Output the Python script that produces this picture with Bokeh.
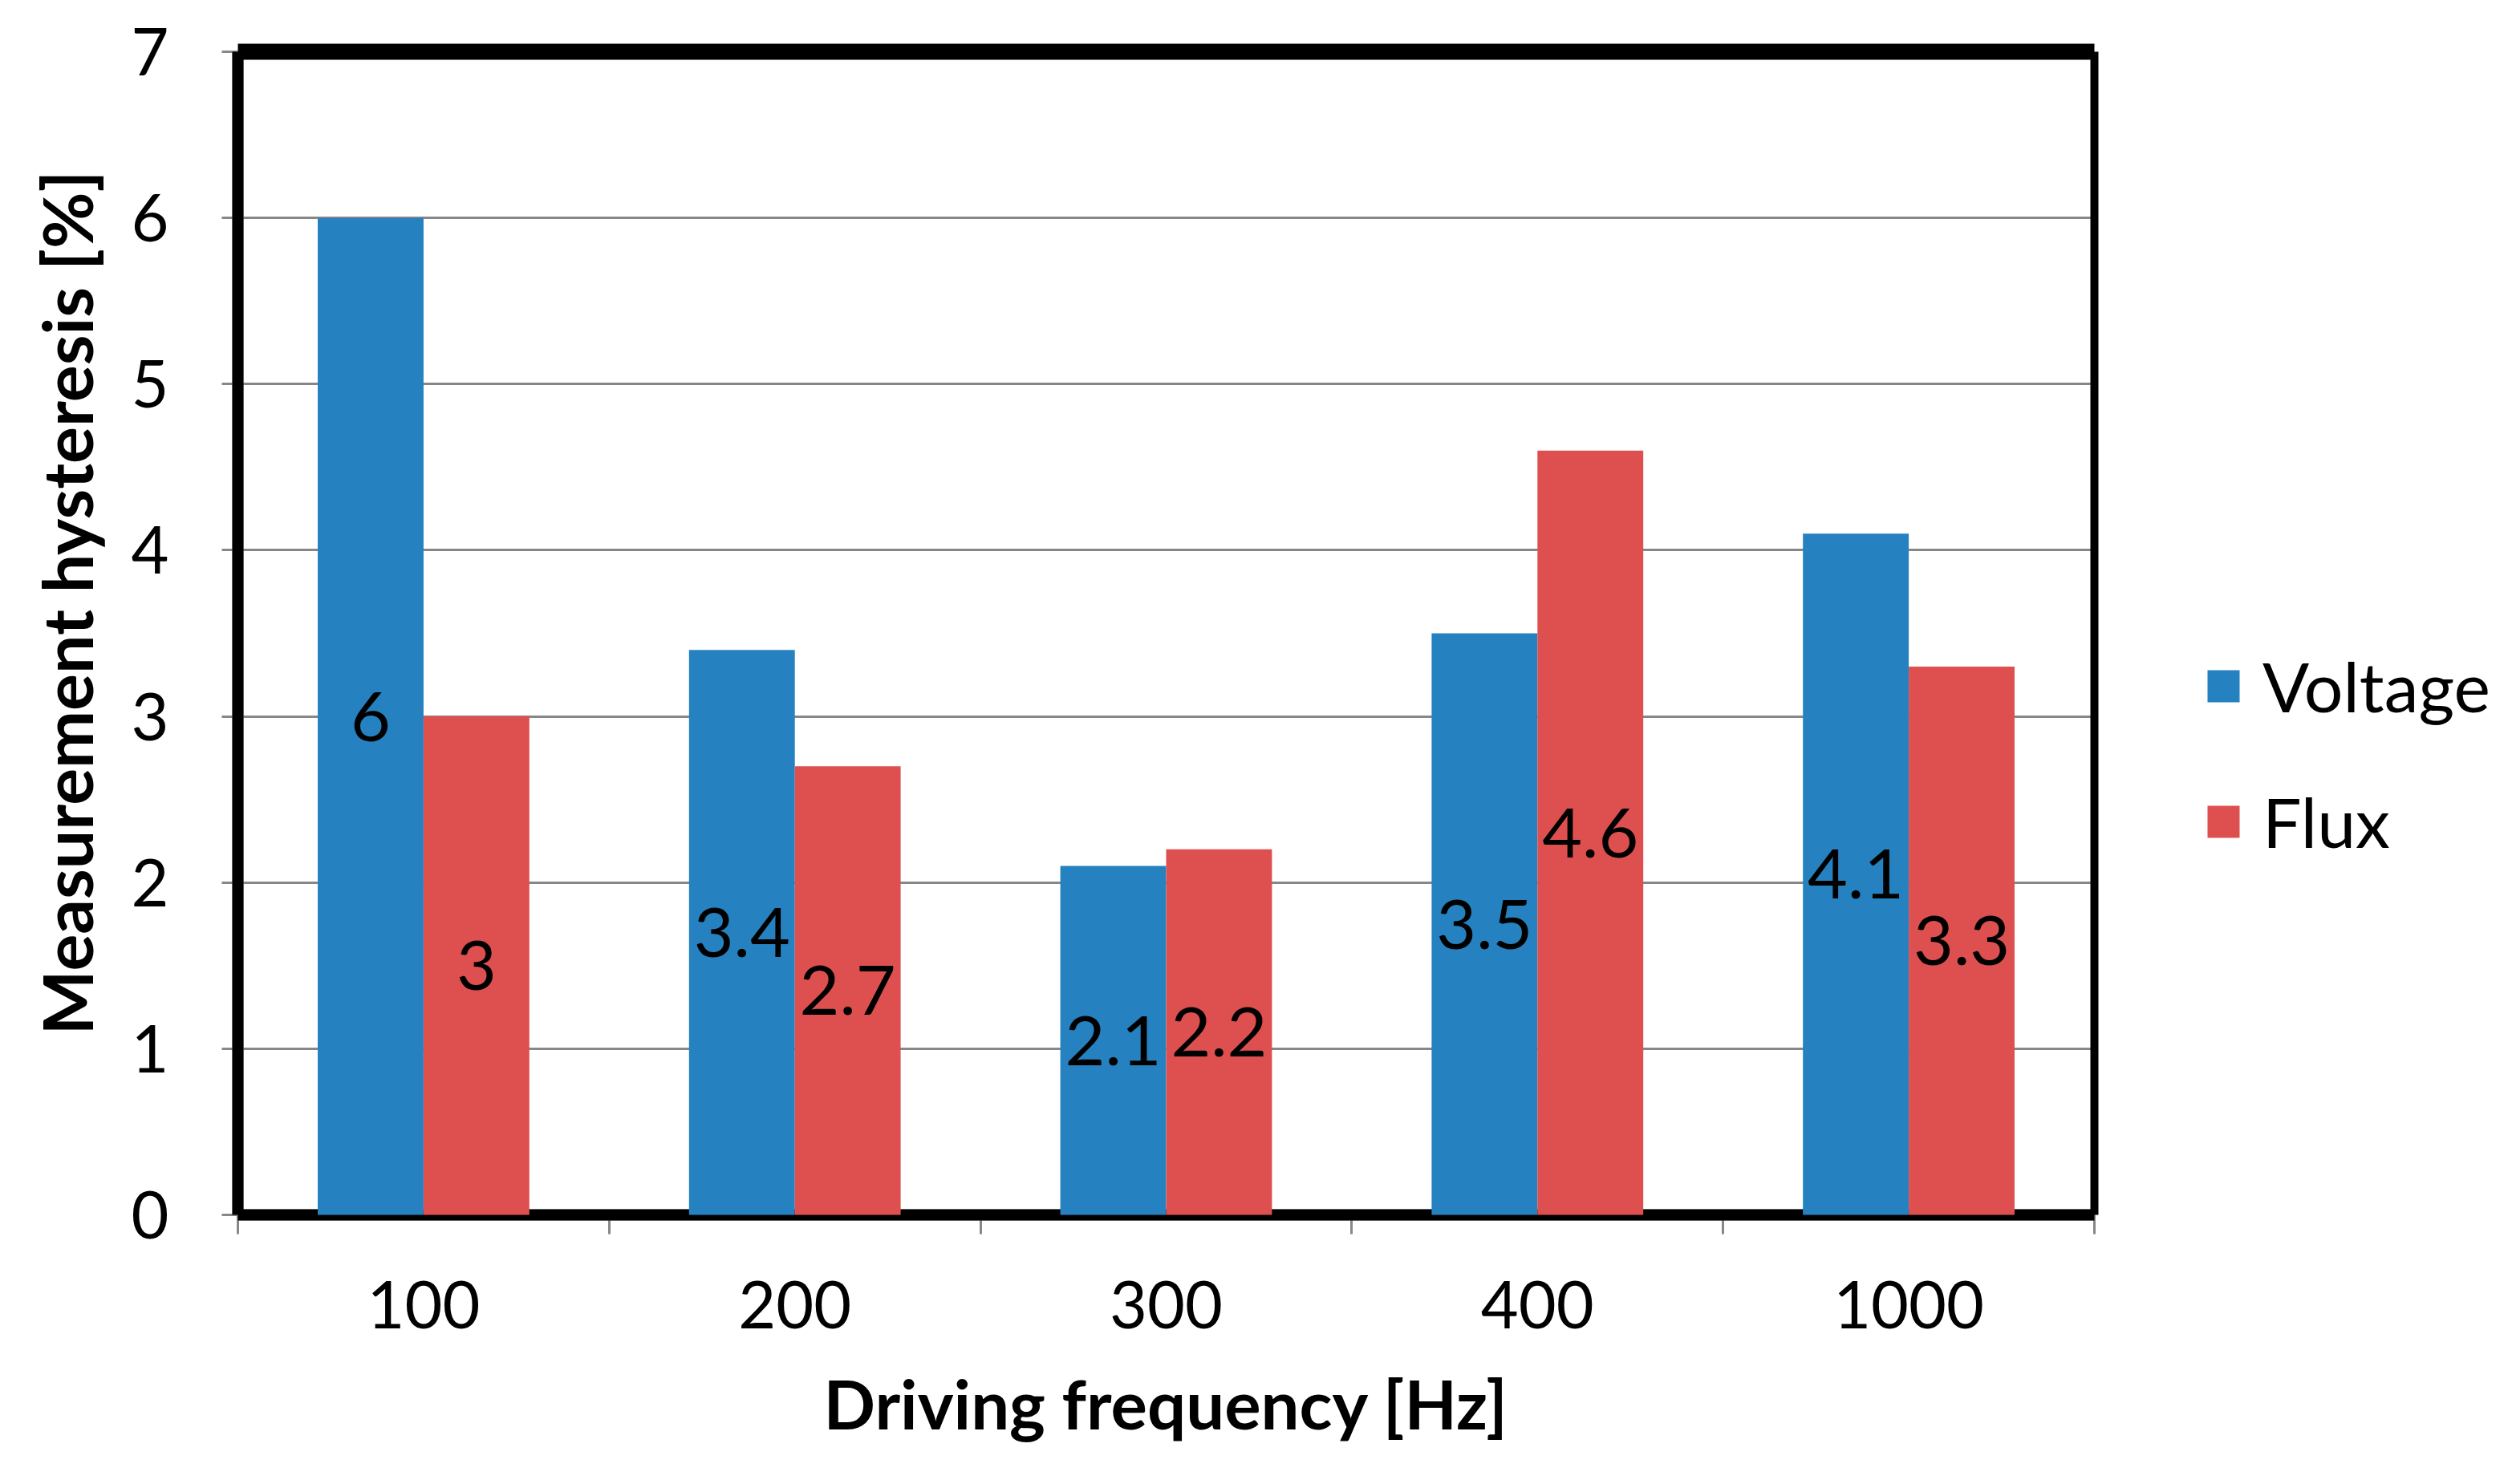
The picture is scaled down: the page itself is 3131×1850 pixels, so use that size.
from bokeh.plotting import figure
from bokeh.models import (ColumnDataSource, Range1d, FixedTicker, Legend,
                          LegendItem, BoxAnnotation, Title)
from bokeh.core.properties import value
from bokeh.embed import file_html
from bokeh.resources import INLINE

# ---- data ----
categories = ["100", "200", "300", "400", "1000"]
voltage = [6, 3.4, 2.1, 3.5, 4.1]
flux = [3, 2.7, 2.2, 4.6, 3.3]
y_ticks = [0, 1, 2, 3, 4, 5, 6, 7]
series_names = ["Voltage", "Flux"]
x_title = "Driving frequency [Hz]"
y_title = "Measurement hysteresis [%]"

BLUE = "#2581C0"
RED = "#DE5050"
GRID = "#878787"
FONT = "Lato"

bar_w = 0.285
n = len(categories)
y_max = 7
centers = [i + 0.5 for i in range(n)]

src_v = ColumnDataSource(dict(
    x=[c - bar_w / 2 for c in centers], top=voltage,
    ym=[v / 2 for v in voltage], lab=[f"{v:g}" for v in voltage]))
src_f = ColumnDataSource(dict(
    x=[c + bar_w / 2 for c in centers], top=flux,
    ym=[v / 2 for v in flux], lab=[f"{v:g}" for v in flux]))

# layout (pixels)
W, H = 3123, 1842
LEFT, TOP = 296, 64
PLOT_BOTTOM = 1514
BOTTOM = H - PLOT_BOTTOM
PLOT_RIGHT = 2610          # where the chart's plot area ends
# the frame runs to the canvas edge so the legend (drawn inside it) is not clipped
x_end = n * (W - LEFT) / (PLOT_RIGHT - LEFT)

p = figure(width=W, height=H, output_backend="svg", toolbar_location=None,
           x_range=Range1d(0, x_end), y_range=Range1d(0, y_max),
           min_border_left=LEFT, min_border_right=0,
           min_border_top=TOP, min_border_bottom=BOTTOM)

p.background_fill_color = "white"
p.border_fill_color = "white"
p.outline_line_color = None

# grid
p.xgrid.visible = False
p.ygrid.ticker = FixedTicker(ticks=y_ticks)
p.ygrid.grid_line_color = GRID
p.ygrid.grid_line_width = 3

# white mask to the right of the plot area (legend area)
p.add_layout(BoxAnnotation(left=n, fill_color="white", fill_alpha=1,
                           line_color=None, level="glyph"))

# plot-area border
p.segment(x0=[0, 0, 0, n], y0=[0, 0, y_max, 0], x1=[n, 0, n, n], y1=[0, y_max, y_max, y_max],
          line_color="black", line_width=[14, 14, 20, 10], level="overlay")

rv = p.vbar(x="x", top="top", bottom=0, width=bar_w, source=src_v,
            fill_color=BLUE, line_color=None, level="overlay")
rf = p.vbar(x="x", top="top", bottom=0, width=bar_w, source=src_f,
            fill_color=RED, line_color=None, level="overlay")

for s in (src_v, src_f):
    p.text(x="x", y="ym", text="lab", source=s, text_align="center",
           text_baseline="middle", text_font=value(FONT),
           text_font_size=value("86px"), text_color="black", level="overlay")

# x axis
xa = p.xaxis[0]
xa.bounds = (0, n)
xa.ticker = FixedTicker(ticks=centers, minor_ticks=list(range(n + 1)))
xa.major_label_overrides = {c: lab for c, lab in zip(centers, categories)}
xa.major_tick_line_color = None
xa.minor_tick_line_color = GRID
xa.minor_tick_line_width = 3
xa.minor_tick_out = 24
xa.minor_tick_in = 0
xa.axis_line_color = GRID
xa.axis_line_width = 14
xa.major_label_text_font = FONT
xa.major_label_text_font_size = "81px"
xa.major_label_text_color = "black"
xa.major_label_standoff = 58

# y axis
ya = p.yaxis[0]
ya.ticker = FixedTicker(ticks=y_ticks)
ya.minor_tick_line_color = None
ya.major_tick_line_color = GRID
ya.major_tick_line_width = 3
ya.major_tick_out = 20
ya.major_tick_in = 0
ya.axis_line_color = GRID
ya.axis_line_width = 14
ya.major_label_text_font = FONT
ya.major_label_text_font_size = "81px"
ya.major_label_text_color = "black"
ya.major_label_standoff = 66

# axis titles (placed under / beside the plot area, not the extended frame)
xt = Title(text=x_title, align="left", offset=730,
           text_font=FONT, text_font_style="bold", text_font_size="85px",
           text_color="black", standoff=75)
p.add_layout(xt, "below")
yt = Title(text=y_title, align="left", offset=224,
           text_font=FONT, text_font_style="bold", text_font_size="86px",
           text_color="black", standoff=54)
p.add_layout(yt, "left")

legend = Legend(items=[LegendItem(label=series_names[0], renderers=[rv]),
                       LegendItem(label=series_names[1], renderers=[rf])],
                location=(2450, 439))
legend.border_line_color = None
legend.background_fill_alpha = 0
legend.margin = 0
legend.padding = 0
legend.glyph_width = 50
legend.glyph_height = 50
legend.label_text_font = FONT
legend.label_text_font_size = "86px"
legend.label_text_color = "black"
legend.label_standoff = 24
legend.spacing = 66
p.add_layout(legend, "center")

open("out.html", "w").write(file_html(p, INLINE))
